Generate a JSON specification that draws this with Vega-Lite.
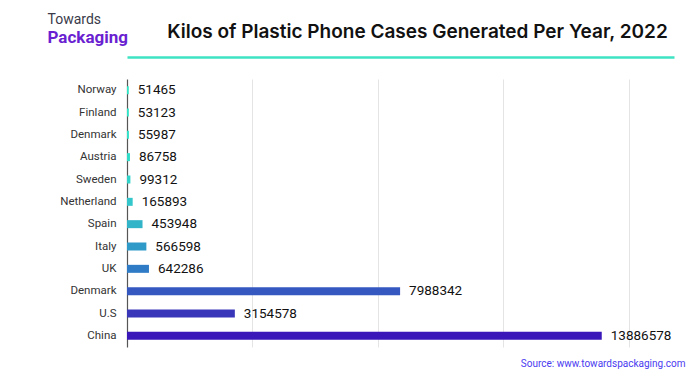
{
  "$schema": "https://vega.github.io/schema/vega-lite/v6.json",
  "width": 547,
  "height": 268,
  "autosize": {"type": "none"},
  "padding": {"left": 127, "top": 79, "right": 26, "bottom": 28},
  "background": "white",
  "title": {
    "text": "Kilos of Plastic Phone Cases Generated Per Year, 2022",
    "font": "Inter",
    "fontSize": 19,
    "fontWeight": 600,
    "color": "#111111",
    "anchor": "middle",
    "dx": 17,
    "offset": -30
  },
  "data": {
    "values": [
      {"country": "Norway", "value": 51465},
      {"country": "Finland", "value": 53123},
      {"country": "Denmark", "value": 55987},
      {"country": "Austria", "value": 86758},
      {"country": "Sweden", "value": 99312},
      {"country": "Netherland", "value": 165893},
      {"country": "Spain", "value": 453948},
      {"country": "Italy", "value": 566598},
      {"country": "UK", "value": 642286},
      {"country": "Denmark\u200b", "value": 7988342},
      {"country": "U.S", "value": 3154578},
      {"country": "China", "value": 13886578}
    ]
  },
  "encoding": {
    "y": {
      "field": "country",
      "type": "nominal",
      "sort": null,
      "scale": {"paddingInner": 0, "paddingOuter": 0},
      "axis": {
        "title": "Packaging",
        "titleAngle": 0,
        "titleX": -80,
        "titleY": -37,
        "titleAlign": "left",
        "titleBaseline": "alphabetic",
        "titleFont": "Roboto",
        "titleFontSize": 17,
        "titleFontWeight": 700,
        "titleColor": "#6a1fd1",
        "domainColor": "#555555",
        "domainWidth": 1.2,
        "ticks": false,
        "labelPadding": 11,
        "labelFont": "Roboto",
        "labelFontSize": 11.5,
        "labelFontWeight": 400,
        "labelColor": "#333333",
        "grid": false
      }
    },
    "x": {
      "field": "value",
      "type": "quantitative",
      "scale": {"domain": [0, 16000000], "nice": false},
      "axis": null
    }
  },
  "layer": [
    {
      "mark": {"type": "bar", "size": 8},
      "encoding": {
        "x": {
          "field": "value",
          "type": "quantitative",
          "scale": {"domain": [0, 16000000], "nice": false},
          "axis": {
            "orient": "bottom",
            "values": [3670000, 7340000, 11010000, 14680000],
            "grid": true,
            "gridColor": "#e4e4e4",
            "gridWidth": 1,
            "domain": false,
            "ticks": false,
            "labels": false,
            "title": "Source: www.towardspackaging.com",
            "titleX": 558,
            "titleY": 16,
            "titleAlign": "right",
            "titleBaseline": "middle",
            "titleFont": "Roboto",
            "titleFontSize": 10,
            "titleFontWeight": 400,
            "titleColor": "#4b3bf0"
          }
        },
        "color": {
          "field": "country",
          "type": "nominal",
          "legend": null,
          "scale": {
            "domain": ["Norway", "Finland", "Denmark", "Austria", "Sweden", "Netherland", "Spain", "Italy", "UK", "Denmark\u200b", "U.S", "China"],
            "range": ["#2ee8c6", "#2ee6c7", "#2fe2c8", "#30dcc8", "#31d3c9", "#33c6cb", "#31b3c8", "#2f9ac8", "#2f7bc6", "#3458c0", "#3a36b9", "#3a17b9"]
          }
        }
      }
    },
    {
      "mark": {
        "type": "text",
        "align": "left",
        "baseline": "middle",
        "dx": 9,
        "font": "Roboto",
        "fontSize": 13.5,
        "color": "#111111"
      },
      "encoding": {
        "x": {
          "field": "value",
          "type": "quantitative",
          "scale": {"domain": [0, 16000000], "nice": false},
          "axis": {
            "orient": "top",
            "offset": 22,
            "domainColor": "#3ee3c3",
            "domainWidth": 2.5,
            "grid": false,
            "ticks": false,
            "labels": false,
            "title": "Towards",
            "titleX": -80,
            "titleY": -34,
            "titleAlign": "left",
            "titleBaseline": "alphabetic",
            "titleFont": "Roboto",
            "titleFontSize": 14,
            "titleFontWeight": 400,
            "titleColor": "#3a3a4a"
          }
        },
        "text": {"field": "value", "type": "quantitative", "format": "d"}
      }
    }
  ],
  "resolve": {"axis": {"x": "independent"}},
  "config": {"view": {"stroke": null}}
}
